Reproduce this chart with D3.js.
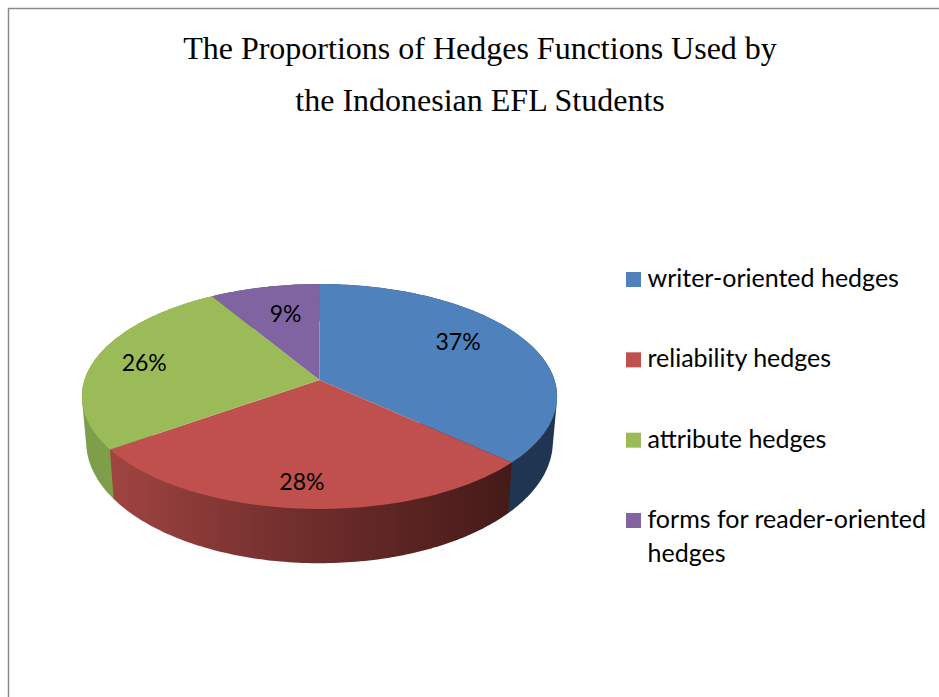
<!DOCTYPE html>
<html lang="en">
<head>
	<meta charset="utf-8">
	<script src="https://cdn.jsdelivr.net/npm/d3@7"></script>
	<style>
		html, body { margin: 0; padding: 0; background: #fff; }
		svg { display: block; }
		.title { font-family: "Liberation Serif", serif; font-size: 32px; fill: #000; text-anchor: middle; }
		.legend text { font-family: Lato, sans-serif; font-size: 25px; fill: #000; }
		.pct { font-family: Lato, sans-serif; font-size: 23px; fill: #000; text-anchor: middle; }
	</style>
</head>
<body>
	<script>
		var titleLines = ["The Proportions of Hedges Functions Used by", "the Indonesian EFL Students"];
		var categories = ["writer-oriented hedges", "reliability hedges", "attribute hedges", "forms for reader-oriented hedges"];
		// labels round to 37 / 28 / 26 / 9, decimals estimated from the slice edges
		var shares = [36.8, 28.4, 26.2, 8.6];
		var colors = ["#4f81bd", "#c0504d", "#9bbb59", "#8064a2"];
		var sideColors = ["#1f3552", "url(#redSide)", "#7f9e4a", "#5a4673"];
		var sideOrder = [3, 2, 0, 1];   // front slice painted last

		var width = 939, height = 697;
		var tilt = 0.1467;      // perspective of the pie top
		var depth = 44, shrinkX = 0.982, stretchY = 1.08;
		var labelRadius = [0.72, 0.82, 0.78, 0.68];
		var labelAlong = [0.45, 0.51, 0.5, 0.565];

		var x = d3.scaleLinear().domain([-1, 1]).range([84.5, 554.5]);
		var y = d3.scaleLinear().domain([-1, 1]).range([270, 490]);

		// angle (0 = top, clockwise) + radius to picture position
		function project(a, r, bottom) {
			var u = r * Math.sin(a), v = -r * Math.cos(a), w = 1 - tilt * v;
			return [
				x(0) + (x(u / w) - x(0)) * (bottom ? shrinkX : 1),
				y(0) + (y(v / w) - y(0)) * (bottom ? stretchY : 1) + (bottom ? depth : 0)
			];
		}

		function arcAngles(d) {
			var n = Math.ceil((d.endAngle - d.startAngle) * 60);
			return d3.range(n + 1).map(function(i) {
				return d.startAngle + (d.endAngle - d.startAngle) * i / n;
			});
		}

		var svg = d3.select("body").append("svg").attr("width", width).attr("height", height);

		var grad = svg.append("defs").append("linearGradient").attr("id", "redSide")
			.attr("gradientUnits", "userSpaceOnUse")
			.attr("x1", 110).attr("x2", 510).attr("y1", 0).attr("y2", 0);
		grad.append("stop").attr("offset", "0%").attr("stop-color", "#a04441");
		grad.append("stop").attr("offset", "45%").attr("stop-color", "#722f2d");
		grad.append("stop").attr("offset", "100%").attr("stop-color", "#451a18");

		// page frame
		svg.append("path").attr("d", d3.line()([[8.5, height], [8.5, 8.5], [width, 8.5]]))
			.attr("fill", "none").attr("stroke", "#8a8a8a").attr("stroke-width", 1.5);

		svg.selectAll(".title").data(titleLines).enter().append("text")
			.attr("class", "title")
			.attr("x", 480)
			.attr("y", function(d, i) { return 59 + i * 52; })
			.text(function(d) { return d; });

		var pie = d3.pie().sort(null).startAngle(0).endAngle(2 * Math.PI);
		var slices = pie(shares);
		var line = d3.line().curve(d3.curveLinearClosed);

		// sides first, the top faces cover what is out of view
		// hull because the strip folds over itself at the left and right ends
		svg.append("g").selectAll("path").data(sideOrder.map(function(i) { return slices[i]; })).enter().append("path")
			.attr("d", function(d) {
				var a = arcAngles(d);
				var top = a.map(function(t) { return project(t, 1, false); });
				var bot = a.map(function(t) { return project(t, 1, true); });
				return line(d3.polygonHull(top.concat(bot)));
			})
			.attr("fill", function(d) { return sideColors[d.index]; });

		svg.append("g").selectAll("path").data(slices).enter().append("path")
			.attr("d", function(d) {
				var pts = arcAngles(d).map(function(t) { return project(t, 1, false); });
				pts.push(project(0, 0, false));
				return line(pts);
			})
			.attr("fill", function(d, i) { return colors[i]; });

		svg.append("g").selectAll("text").data(slices).enter().append("text")
			.attr("class", "pct")
			.attr("transform", function(d, i) {
				var a = d.startAngle + (d.endAngle - d.startAngle) * labelAlong[i];
				return "translate(" + project(a, labelRadius[i], false) + ")";
			})
			.attr("dy", "0.36em")
			.text(function(d) { return Math.round(d.value) + "%"; });

		var legendY = d3.scalePoint().domain(categories).range([280, 521]);
		var legend = svg.append("g").attr("class", "legend").selectAll("g").data(categories).enter().append("g")
			.attr("transform", function(d) { return "translate(626," + legendY(d) + ")"; });
		legend.append("rect").attr("y", -8).attr("width", 15).attr("height", 15)
			.attr("fill", function(d, i) { return colors[i]; });
		legend.each(function(d) {
			var t = d3.select(this).append("text").attr("x", 21.5).attr("y", 7);
			var parts = d === categories[3] ? ["forms for reader-oriented", "hedges"] : [d];
			parts.forEach(function(p, i) {
				t.append("tspan").attr("x", 21.5).attr("dy", i ? 34 : 0).text(p);
			});
		});
	</script>
</body>
</html>
